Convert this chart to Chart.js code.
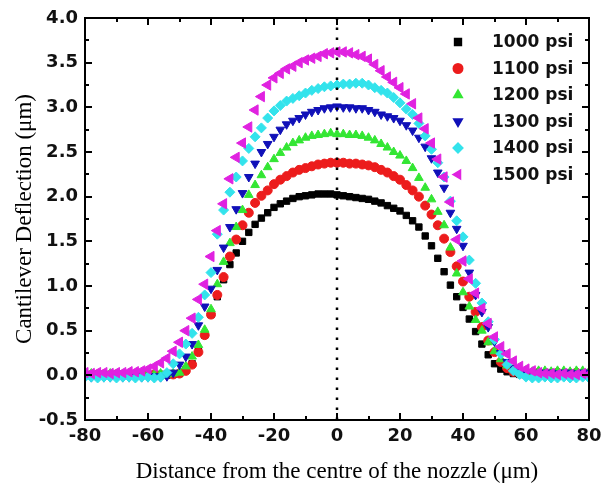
<!DOCTYPE html>
<html>
<head>
<meta charset="utf-8">
<script src="https://cdn.jsdelivr.net/npm/chart.js@4.4.1/dist/chart.umd.min.js"></script>
<style>
  html, body { margin: 0; padding: 0; background: #fff; }
  #wrap { width: 611px; height: 490px; }
</style>
</head>
<body>
<div id="wrap"><canvas id="deflChart" width="611" height="490"></canvas></div>
<script>
// DATA
const xValues = [
  -80, -78, -76, -74, -72, -70, -68, -66, -64, -62, -60, -58, -56, -54, -52,
  -50, -48, -46, -44, -42, -40, -38, -36, -34, -32, -30, -28, -26, -24, -22,
  -20, -18, -16, -14, -12, -10, -8, -6, -4, -2, 0,
  2, 4, 6, 8, 10, 12, 14, 16, 18, 20, 22, 24, 26, 28, 30, 32, 34, 36, 38, 40,
  42, 44, 46, 48, 50, 52, 54, 56, 58, 60, 62, 64, 66, 68, 70, 72, 74, 76, 78, 80
];

const seriesLabels = ["1000 psi", "1100 psi", "1200 psi", "1300 psi", "1400 psi", "1500 psi"];

const psi1000 = [
  0.0, 0.01, 0.0, 0.0, 0.01, 0.0, 0.0, 0.01, 0.0, 0.0, 0.0, 0.01, 0.01, 0.0, 0.01,
  0.02, 0.06, 0.13, 0.27, 0.45, 0.68, 0.88, 1.07, 1.24, 1.37, 1.5, 1.6, 1.69, 1.76, 1.82,
  1.88, 1.92, 1.95, 1.98, 2.0, 2.01, 2.02, 2.03, 2.03, 2.03, 2.02,
  2.01, 2.0, 1.99, 1.98, 1.97, 1.95, 1.93, 1.9, 1.87, 1.84, 1.79, 1.73, 1.66, 1.56, 1.45,
  1.31, 1.16, 1.01, 0.88, 0.76, 0.63, 0.49, 0.35, 0.23, 0.13, 0.07, 0.04, 0.02, 0.01, 0.0,
  0.01, 0.0, 0.0, 0.01, 0.0, 0.0, 0.01, 0.0, 0.0, 0.01
];
const psi1100 = [
  0.01, 0.0, 0.01, 0.01, 0.0, 0.01, 0.0, 0.01, 0.01, 0.0, 0.01, 0.01, 0.0, 0.01, 0.01,
  0.02, 0.05, 0.12, 0.26, 0.45, 0.68, 0.9, 1.1, 1.33, 1.52, 1.68, 1.82, 1.93, 2.01, 2.07,
  2.14, 2.19, 2.23, 2.27, 2.3, 2.32, 2.34, 2.36, 2.37, 2.38, 2.38,
  2.38, 2.37, 2.37, 2.36, 2.35, 2.33, 2.3, 2.27, 2.23, 2.19, 2.13, 2.07, 2.0, 1.9, 1.8,
  1.68, 1.53, 1.38, 1.22, 1.05, 0.88, 0.71, 0.54, 0.39, 0.26, 0.15, 0.08, 0.04, 0.02, 0.02,
  0.02, 0.03, 0.02, 0.02, 0.03, 0.02, 0.02, 0.03, 0.02, 0.02
];
const psi1200 = [
  0.01, 0.02, 0.01, 0.01, 0.02, 0.01, 0.01, 0.02, 0.01, 0.01, 0.02, 0.01, 0.02, 0.01, 0.02,
  0.03, 0.1, 0.21, 0.34, 0.51, 0.74, 1.02, 1.27, 1.48, 1.66, 1.85, 2.02, 2.13, 2.24, 2.33,
  2.42, 2.49, 2.55, 2.6, 2.63, 2.66, 2.68, 2.69, 2.7, 2.71, 2.7,
  2.7, 2.69, 2.69, 2.68, 2.66, 2.63, 2.59, 2.55, 2.5, 2.46, 2.4, 2.32, 2.21, 2.1, 1.97,
  1.83, 1.68, 1.43, 1.14, 0.93, 0.77, 0.62, 0.5, 0.37, 0.27, 0.18, 0.11, 0.07, 0.05, 0.05,
  0.04, 0.05, 0.05, 0.04, 0.05, 0.05, 0.04, 0.05, 0.05, 0.04
];
const psi1300 = [
  -0.01, -0.02, -0.01, -0.02, -0.02, -0.01, -0.02, -0.02, -0.01, -0.02, -0.02, -0.01, -0.02, -0.01, 0.03,
  0.12, 0.21, 0.35, 0.56, 0.77, 0.97, 1.18, 1.43, 1.66, 1.86, 2.04, 2.22, 2.37, 2.5, 2.59,
  2.67, 2.75, 2.81, 2.85, 2.88, 2.92, 2.95, 2.97, 2.99, 3.0, 3.01,
  3.0, 3.0, 2.99, 2.99, 2.97, 2.95, 2.92, 2.9, 2.88, 2.85, 2.8, 2.74, 2.66, 2.56, 2.43,
  2.27, 2.1, 1.82, 1.64, 1.45, 1.15, 0.9, 0.71, 0.54, 0.38, 0.25, 0.15, 0.08, 0.05, 0.03,
  0.03, 0.02, 0.03, 0.03, 0.02, 0.03, 0.03, 0.02, 0.03, 0.03
];
const psi1400 = [
  -0.02, -0.02, -0.03, -0.02, -0.02, -0.03, -0.02, -0.02, -0.03, -0.02, -0.02, -0.03, -0.02, 0.03, 0.13,
  0.24, 0.35, 0.47, 0.65, 0.9, 1.15, 1.58, 1.85, 2.05, 2.22, 2.4, 2.54, 2.67, 2.77, 2.88,
  2.96, 3.02, 3.07, 3.1, 3.13, 3.16, 3.19, 3.21, 3.23, 3.24, 3.25,
  3.26, 3.26, 3.27, 3.27, 3.25, 3.22, 3.19, 3.16, 3.11, 3.05, 2.98, 2.92, 2.82, 2.68, 2.53,
  2.38, 2.22, 1.95, 1.73, 1.55, 1.29, 1.03, 0.81, 0.6, 0.4, 0.24, 0.12, 0.05, 0.01, -0.02,
  -0.03, -0.03, -0.02, -0.03, -0.03, -0.02, -0.03, -0.03, -0.02, -0.03
];
const psi1500 = [
  0.03, 0.02, 0.03, 0.03, 0.02, 0.03, 0.03, 0.04, 0.04, 0.05, 0.07, 0.1, 0.14, 0.19, 0.27,
  0.37, 0.5, 0.64, 0.85, 1.02, 1.33, 1.62, 1.92, 2.2, 2.44, 2.6, 2.78, 2.97, 3.12, 3.25,
  3.33, 3.38, 3.43, 3.46, 3.5, 3.53, 3.55, 3.57, 3.6, 3.61, 3.62,
  3.62, 3.61, 3.59, 3.57, 3.54, 3.48, 3.41, 3.34, 3.28, 3.22, 3.15, 3.04, 2.88, 2.76, 2.6,
  2.42, 2.22, 1.94, 1.52, 1.28, 1.08, 0.92, 0.75, 0.58, 0.43, 0.32, 0.24, 0.16, 0.1, 0.07,
  0.05, 0.03, 0.02, 0.02, 0.01, 0.02, 0.01, 0.01, 0.02, 0.01
];

// centre of the nozzle, dotted marker line
const centreLineX = [0, 0];
const centreLineY = [-0.5, 4.0];

// STYLES
const colors = ["#000000", "#ec1c1c", "#33e633", "#1010b8", "#33e3ec", "#e022e0"];
const shapes = ["rect", "circle", "triangle", "triangle", "rectRot", "triangle"];
const rotations = [0, 0, 0, 180, 0, 270];
const radii = [4.5, 4.5, 5, 5, 5, 6];

const allSeries = [psi1000, psi1100, psi1200, psi1300, psi1400, psi1500];

const datasets = allSeries.map((vals, i) => ({
    label: seriesLabels[i],
    data: xValues.map((x, k) => ({ x, y: vals[k] })),
    showLine: false,
    pointStyle: shapes[i],
    rotation: rotations[i],
    pointRadius: radii[i],
    pointBorderWidth: 1,
    backgroundColor: colors[i],
    borderColor: colors[i],
    order: 6 - i
}));

datasets.push({
    label: "centre",
    type: "line",
    data: centreLineX.map((x, k) => ({ x, y: centreLineY[k] })),
    borderColor: "#000",
    borderWidth: 2.5,
    borderDash: [2.5, 7.5],
    pointRadius: 0,
    order: 0
});

// frame, inward ticks and legend
const framePlugin = {
    id: "frameTicks",
    afterDraw(chart) {
        const { ctx, chartArea: a, scales: { x, y } } = chart;
        ctx.save();
        ctx.strokeStyle = "#000";
        ctx.lineWidth = 2;
        ctx.strokeRect(a.left, a.top, a.right - a.left, a.bottom - a.top);

        ctx.beginPath();
        for (let v = x.min; v <= x.max + 1e-6; v += 10) {
            const px = Math.round(x.getPixelForValue(v));
            const len = (Math.round(v) % 20 === 0) ? 7 : 4;
            ctx.moveTo(px, a.bottom); ctx.lineTo(px, a.bottom - len);
            ctx.moveTo(px, a.top); ctx.lineTo(px, a.top + len);
        }
        for (let v = y.min; v <= y.max + 1e-6; v += 0.25) {
            const py = Math.round(y.getPixelForValue(v));
            const major = Math.abs(v * 2 - Math.round(v * 2)) < 1e-6;
            const len = major ? 7 : 4;
            ctx.moveTo(a.left, py); ctx.lineTo(a.left + len, py);
            ctx.moveTo(a.right, py); ctx.lineTo(a.right - len, py);
        }
        ctx.stroke();

        // legend
        ctx.font = "bold 17px 'DejaVu Sans'";
        ctx.textBaseline = "middle";
        ctx.textAlign = "left";
        seriesLabels.forEach((lbl, i) => {
            const ly = a.top + 24 + i * 26.5;
            const lx = a.right - 131;
            ctx.fillStyle = colors[i];
            ctx.strokeStyle = colors[i];
            Chart.helpers.drawPoint(ctx, {
                pointStyle: shapes[i], rotation: rotations[i],
                radius: 4.5, borderWidth: 1
            }, lx, ly);
            ctx.fillStyle = "#111";
            ctx.fillText(lbl, a.right - 97, ly + 1);
        });
        ctx.restore();
    }
};

const tickFont = { family: "'DejaVu Sans'", weight: "bold", size: 18 };
const titleFont = { family: "'Liberation Serif'", size: 23 };

new Chart(document.getElementById("deflChart"), {
    type: "scatter",
    data: { datasets },
    options: {
        responsive: false,
        animation: false,
        devicePixelRatio: 1,
        layout: { padding: { left: 0, top: 18, right: 22, bottom: 0 } },
        plugins: {
            legend: { display: false },
            tooltip: { enabled: false }
        },
        scales: {
            x: {
                type: "linear",
                min: -80, max: 80,
                grid: { display: false, drawTicks: false },
                border: { display: false },
                ticks: {
                    stepSize: 20, autoSkip: false, maxRotation: 0,
                    padding: 6, color: "#111", font: tickFont
                },
                title: {
                    display: true,
                    text: "Distance from the centre of the nozzle (\u03bcm)",
                    color: "#000", font: titleFont,
                    padding: { top: 0, bottom: 4 }
                },
                afterFit(scale) { scale.height = 70; }
            },
            y: {
                min: -0.5, max: 4.0,
                grid: { display: false, drawTicks: false },
                border: { display: false },
                ticks: {
                    stepSize: 0.5, padding: 7, color: "#111", font: tickFont,
                    callback: v => v.toFixed(1)
                },
                title: {
                    display: true,
                    text: "Cantilever Deflection (\u03bcm)",
                    color: "#000", font: titleFont,
                    padding: { top: 11, bottom: 0 }
                },
                afterFit(scale) { scale.width = 85; }
            }
        }
    },
    plugins: [framePlugin]
});
</script>
</body>
</html>
